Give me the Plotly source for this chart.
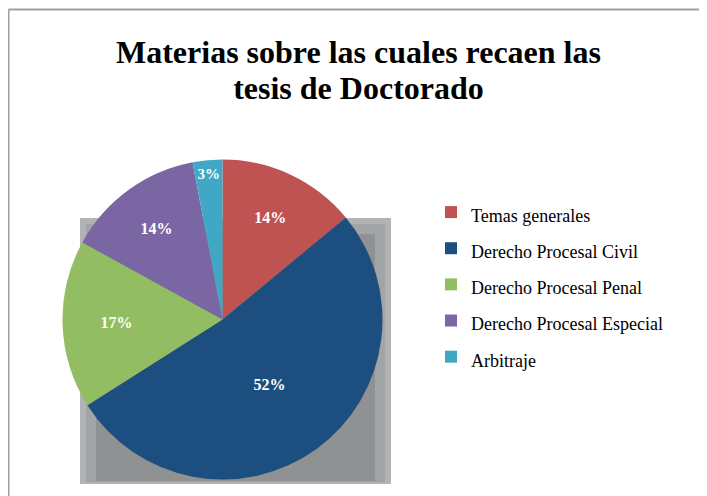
import plotly.graph_objects as go

# data
materias = ["Temas generales", "Derecho Procesal Civil", "Derecho Procesal Penal",
            "Derecho Procesal Especial", "Arbitraje"]
porcentajes = [14, 52, 17, 14, 3]
colores = ["#be5351", "#1c4f80", "#93bd62", "#7b66a4", "#40a8c4"]
titulo = ["Materias sobre las cuales recaen las", "tesis de Doctorado"]

W, H = 707, 496
OFS = 8  # the page body adds an 8px margin around the plot div


def px(x):
    return (x - OFS) / W


def py(y):
    # y measured from the top of the window
    return 1 - (y - OFS) / H


fig = go.Figure()

fig.add_trace(go.Pie(
    labels=[f"<span style='font-size:18px'>{m}</span>" for m in materias],
    values=porcentajes,
    sort=False,
    direction="clockwise",
    rotation=0,
    marker=dict(colors=colores, line=dict(width=0)),
    textinfo="percent",
    textposition="inside",
    insidetextorientation="horizontal",
    textfont=dict(family="Liberation Serif", size=16, color="white", weight="bold"),
    domain=dict(x=[px(62.5), px(382.5)], y=[py(479.5), py(159.5)]),
    hoverinfo="label+percent",
))

shapes = [
    # gray backdrop behind the pie, lighter toward the corners
    dict(type="rect", xref="paper", yref="paper", layer="below",
         x0=px(80), x1=px(391), y0=py(484), y1=py(218),
         fillcolor="#b1b3b4", line=dict(width=0)),
    dict(type="rect", xref="paper", yref="paper", layer="below",
         x0=px(86), x1=px(385), y0=py(482), y1=py(224),
         fillcolor="#a2a4a5", line=dict(width=0)),
    dict(type="rect", xref="paper", yref="paper", layer="below",
         x0=px(96), x1=px(375), y0=py(481), y1=py(234),
         fillcolor="#8f9192", line=dict(width=0)),
    # chart frame (top and left edges visible)
    dict(type="line", xref="paper", yref="paper",
         x0=px(8.5), x1=1, y0=py(9.5), y1=py(9.5),
         line=dict(color="#a0a0a0", width=2)),
    dict(type="line", xref="paper", yref="paper",
         x0=px(8.5), x1=px(8.5), y0=0, y1=py(9.5),
         line=dict(color="#a0a0a0", width=2)),
]

# title: big glyphs, base size sets the gap between the two lines
titulo_html = "<br>".join(f"<span style='font-size:32px'>{t}</span>" for t in titulo)
annotations = [
    dict(text=f"<b>{titulo_html}</b>", xref="paper", yref="paper",
         x=px(358), y=py(70), xanchor="center", yanchor="middle",
         showarrow=False,
         font=dict(family="Liberation Serif", size=28, color="black"))
]

fig.update_layout(
    width=W, height=H,
    margin=dict(l=0, r=0, t=0, b=0),
    paper_bgcolor="white",
    plot_bgcolor="white",
    legend=dict(
        x=px(431), xanchor="left",
        y=py(189), yanchor="top",
        font=dict(family="Liberation Serif", size=25.5, color="black"),
        bgcolor="rgba(0,0,0,0)",
    ),
    shapes=shapes,
    annotations=annotations,
)

fig.write_html("out.html")
